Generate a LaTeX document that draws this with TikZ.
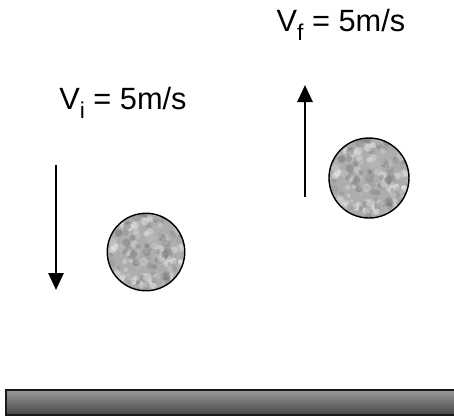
\documentclass[tikz,border=0pt]{standalone}
\usepackage{fontspec}
\setmainfont{Liberation Sans}
\usetikzlibrary{arrows.meta,calc}
\newcommand{\lowidx}[1]{\raisebox{-0.3em}{\fontsize{13}{14}\selectfont #1}}
\begin{document}
\begin{tikzpicture}[x=0.02cm, y=-0.02cm, >={Triangle[width=0.3cm,length=0.34cm]}]
  \tikzset{
    speed/.style={font=\fontsize{17.5}{20}\selectfont, anchor=base, inner sep=0pt},
    vel/.style={->, line width=1.6pt},
    rock/.style={circle, draw=black, line width=0.8pt, fill=black!32,
      minimum size=#1, inner sep=0pt,
      path picture={
        \pgfmathsetseed{7}
        \foreach \k in {1,...,260}{
          \pgfmathsetmacro\g{rnd*60}
          \fill[black!\g, opacity=0.45] ($(path picture bounding box.center)+(rand*0.85cm,rand*0.85cm)$) circle (0.04cm+rnd*0.05cm);
        }
      }},
  }
  \useasboundingbox (0,0) rectangle (454,417);
  % falling rock
  \node[rock=1.55cm] (rockdown) at (146,252) {};
  \coordinate (downtail) at (56,165);
  \coordinate (downtip) at (56,290);
  \draw[vel] (downtail) -- (downtip);
  \node[speed] (vinit) at (123,109) {V\lowidx{i} = 5m/s};
  % rebounding rock
  \node[rock=1.6cm] (rockup) at (369,178) {};
  \coordinate (uptail) at (305,197);
  \coordinate (uptip) at (305,85);
  \draw[vel] (uptail) -- (uptip);
  \node[speed] (vfinal) at (341,31) {V\lowidx{f} = 5m/s};
  % ground
  \shade[top color=black!40, bottom color=black!72, draw=black!90, line width=1.2pt]
    (6,390) rectangle (470,415);
\end{tikzpicture}
\end{document}
